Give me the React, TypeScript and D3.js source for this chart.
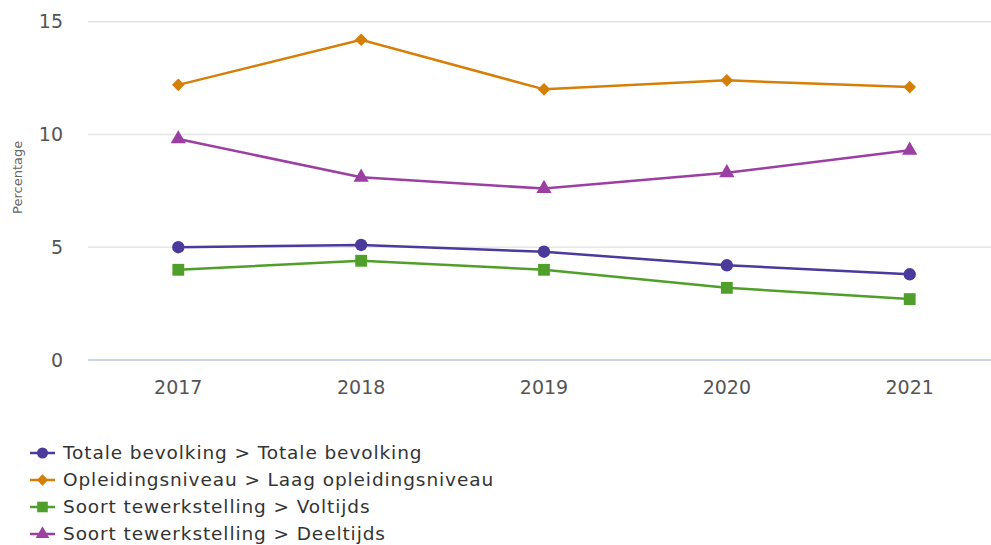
import React from "react";
import * as d3 from "d3";

const years = ["2017", "2018", "2019", "2020", "2021"];
const totaleBevolking = [5.0, 5.1, 4.8, 4.2, 3.8];
const laagOpleiding = [12.2, 14.2, 12.0, 12.4, 12.1];
const voltijds = [4.0, 4.4, 4.0, 3.2, 2.7];
const deeltijds = [9.8, 8.1, 7.6, 8.3, 9.3];
const yTicks = [0, 5, 10, 15];

const seriesNames = [
  "Totale bevolking > Totale bevolking",
  "Opleidingsniveau > Laag opleidingsniveau",
  "Soort tewerkstelling > Voltijds",
  "Soort tewerkstelling > Deeltijds",
];
const seriesColors = ["#4b3a9c", "#d67f08", "#4f9f2a", "#9b3fa2"];
const seriesSymbols = [d3.symbolCircle, d3.symbolSquare, d3.symbolSquare, d3.symbolTriangle];
const seriesRotate = [0, 45, 0, 0];
const seriesSizes = [120, 80, 140, 100];
const seriesValues = [totaleBevolking, laagOpleiding, voltijds, deeltijds];

const W = 991;
const H = 545;
const FONT = "'DejaVu Sans', 'Lato', sans-serif";

export default function App() {
  const x = d3.scalePoint<string>().domain(years).range([178.3, 909.7]);
  const y = d3.scaleLinear().domain([0, 15]).range([360, 21.7]);
  const line = d3
    .line<number>()
    .x((_, i) => x(years[i]) as number)
    .y((d) => y(d));
  const gridLeft = 88;
  const gridRight = 991;

  return (
    <svg
      width={W}
      height={H}
      style={{ position: "absolute", left: 0, top: 0, background: "#fff" }}
      fontFamily={FONT}
    >
      <rect x={0} y={0} width={W} height={H} fill="#fff" />
      {yTicks.map((t) => (
        <g key={t}>
          <line
            x1={gridLeft}
            x2={gridRight}
            y1={y(t)}
            y2={y(t)}
            stroke={t === 0 ? "#ccd6eb" : "#e6e6e6"}
            strokeWidth={t === 0 ? 2 : 1.5}
          />
          <text
            x={63}
            y={y(t)}
            dy="0.35em"
            textAnchor="end"
            fontSize={19}
            fill="#555"
          >
            {t}
          </text>
        </g>
      ))}
      <text
        transform={`translate(22,${y(8.1)}) rotate(-90)`}
        textAnchor="middle"
        fontSize={13}
        fill="#666"
      >
        Percentage
      </text>
      {years.map((yr) => (
        <text
          key={yr}
          x={x(yr)}
          y={387}
          dy="0.35em"
          textAnchor="middle"
          fontSize={19}
          fill="#555"
        >
          {yr}
        </text>
      ))}
      {seriesValues.map((vals, si) => (
        <g key={si}>
          <path
            d={line(vals) || ""}
            fill="none"
            stroke={seriesColors[si]}
            strokeWidth={2.5}
          />
          {vals.map((v, i) => (
            <path
              key={i}
              transform={`translate(${x(years[i])},${y(v)}) rotate(${seriesRotate[si]})`}
              d={d3.symbol().type(seriesSymbols[si]).size(seriesSizes[si])() || ""}
              fill={seriesColors[si]}
            />
          ))}
        </g>
      ))}
      {seriesNames.map((name, si) => {
        const ly = 453 + si * 27;
        return (
          <g key={name}>
            <line x1={30} x2={55} y1={ly} y2={ly} stroke={seriesColors[si]} strokeWidth={2.5} />
            <path
              transform={`translate(42.5,${ly}) rotate(${seriesRotate[si]})`}
              d={d3.symbol().type(seriesSymbols[si]).size(seriesSizes[si] * 0.8)() || ""}
              fill={seriesColors[si]}
            />
            <text x={63} y={ly} dy="0.35em" fontSize={18.5} fill="#333" letterSpacing={0.9}>
              {name}
            </text>
          </g>
        );
      })}
    </svg>
  );
}
